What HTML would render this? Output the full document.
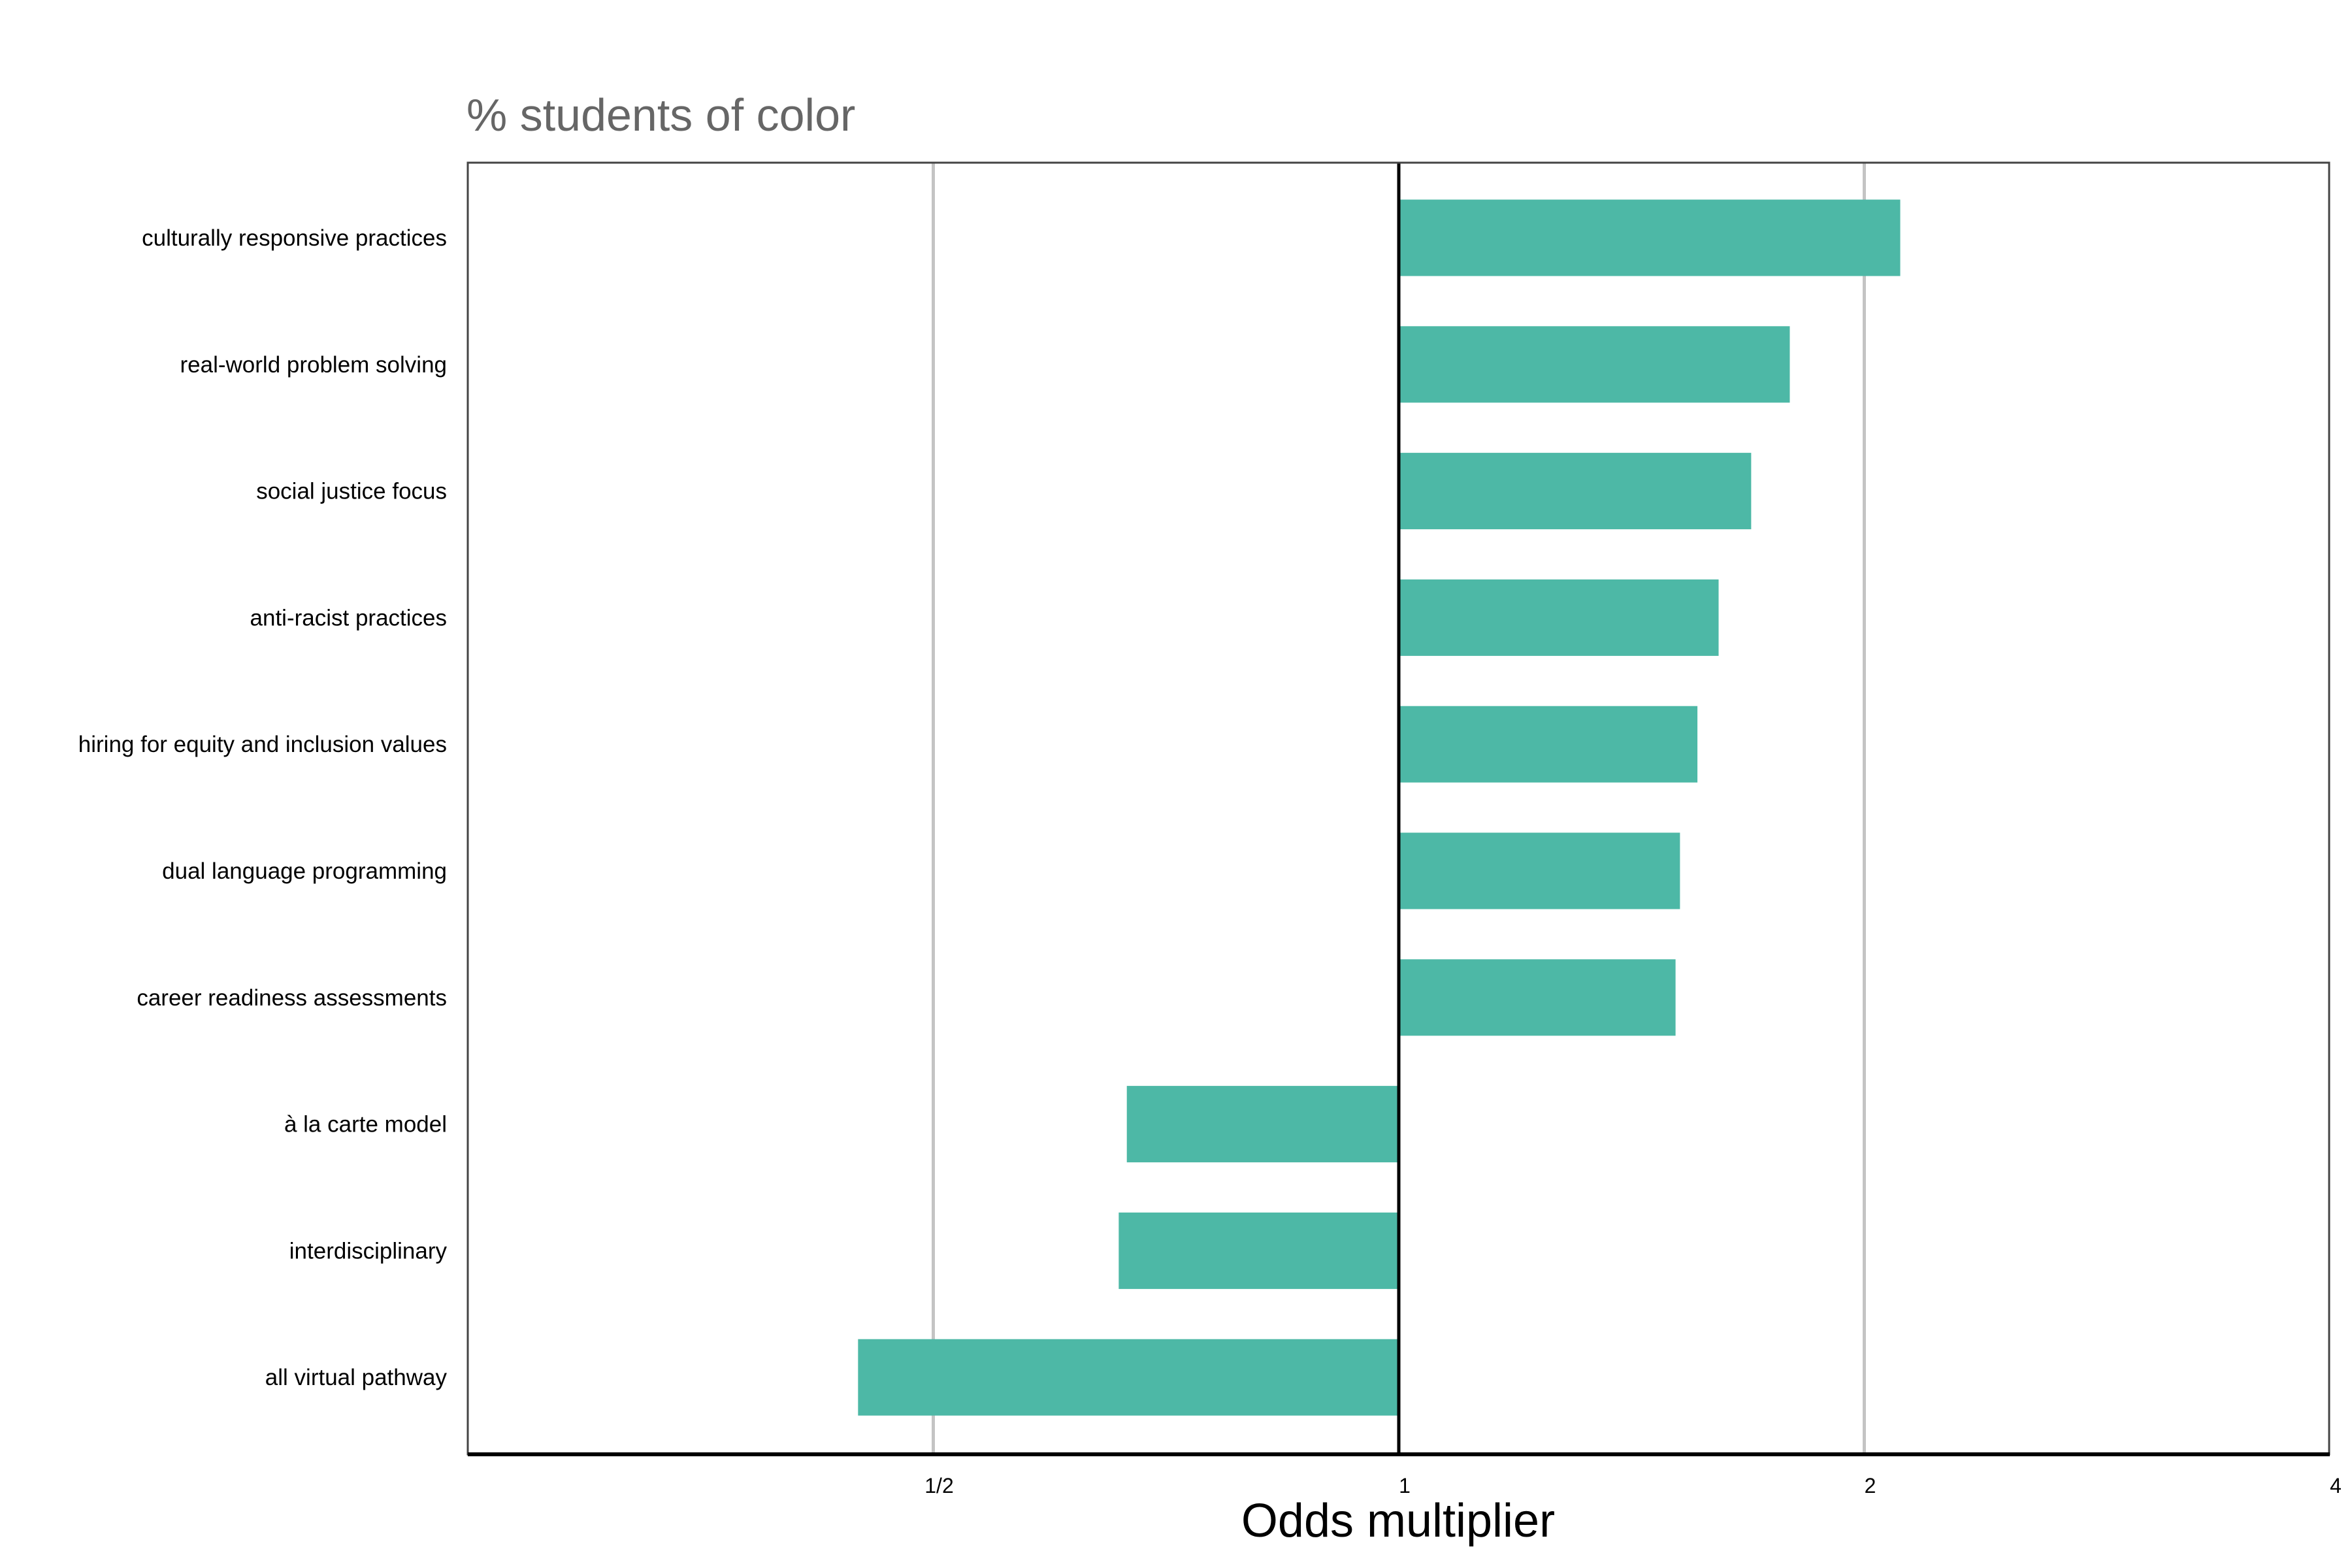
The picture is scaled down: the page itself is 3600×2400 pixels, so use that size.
<!DOCTYPE html>
<html><head><meta charset="utf-8"><style>
html,body{margin:0;padding:0;background:#fff}
svg{display:block}
text{font-family:"Liberation Sans",sans-serif}
</style></head><body>
<svg id="chart" width="3600" height="2400" viewBox="0 0 3600 2400">
<text x="714" y="200" font-size="70" fill="#666">% students of color</text>
<g id="grid"></g>
<g id="bars"></g>
<g id="labels"></g>
<rect x="716" y="249" width="2849" height="1977" fill="none" stroke="#444" stroke-width="3"/>
<line x1="716" y1="2226" x2="3566" y2="2226" stroke="#000" stroke-width="6"/>
<g id="ticks"></g>
<text x="2140" y="2352" font-size="72" text-anchor="middle" fill="#000">Odds multiplier</text>
</svg>
<script>
const categories = ["culturally responsive practices","real-world problem solving","social justice focus","anti-racist practices","hiring for equity and inclusion values","dual language programming","career readiness assessments","à la carte model","interdisciplinary","all virtual pathway"];
const values = [2.11, 1.79, 1.69, 1.61, 1.56, 1.52, 1.51, 0.667, 0.659, 0.447];
const tickValues = [0.5, 1, 2, 4];
const tickLabels = ["1/2","1","2","4"];

const NS = "http://www.w3.org/2000/svg";
const x0 = 716, x1 = 3566, dMin = -2, dMax = 2;
function xs(v){ return x0 + (Math.log2(v) - dMin) / (dMax - dMin) * (x1 - x0); }
const firstC = 364, step = 193.8, barH = 117;
function yc(i){ return firstC + i * step; }
function mk(tag, attrs, parent){ const e = document.createElementNS(NS, tag); for (const k in attrs) e.setAttribute(k, attrs[k]); parent.appendChild(e); return e; }

const grid = document.getElementById('grid');
const ticks = document.getElementById('ticks');
tickValues.forEach((v, i) => {
  const x = xs(v);
  if (v !== 1 && v !== 4) {
    const g = mk('line', {x1:x, y1:249, x2:x, y2:2226, stroke:'#c4c4c4', 'stroke-width':5}, grid);
    
    
  }
  const t = mk('text', {x:x + 9, y:2285, 'font-size':32, 'text-anchor':'middle', fill:'#000'}, ticks);
  t.textContent = tickLabels[i];
  
  
});

const bars = document.getElementById('bars');
const labels = document.getElementById('labels');
categories.forEach((c, i) => {
  const xa = xs(1), xb = xs(values[i]);
  const r = mk('rect', {x:Math.min(xa, xb), y:yc(i) - barH/2, width:Math.abs(xb - xa), height:barH, fill:'#4db8a6'}, bars);
  
  
  const t = mk('text', {x:684, y:yc(i) + 12, 'font-size':35, 'text-anchor':'end', fill:'#000'}, labels);
  t.textContent = c;
  
  
});
const z = mk('line', {x1:xs(1), y1:249, x2:xs(1), y2:2226, stroke:'#000', 'stroke-width':5}, bars);


</script>
</body></html>
